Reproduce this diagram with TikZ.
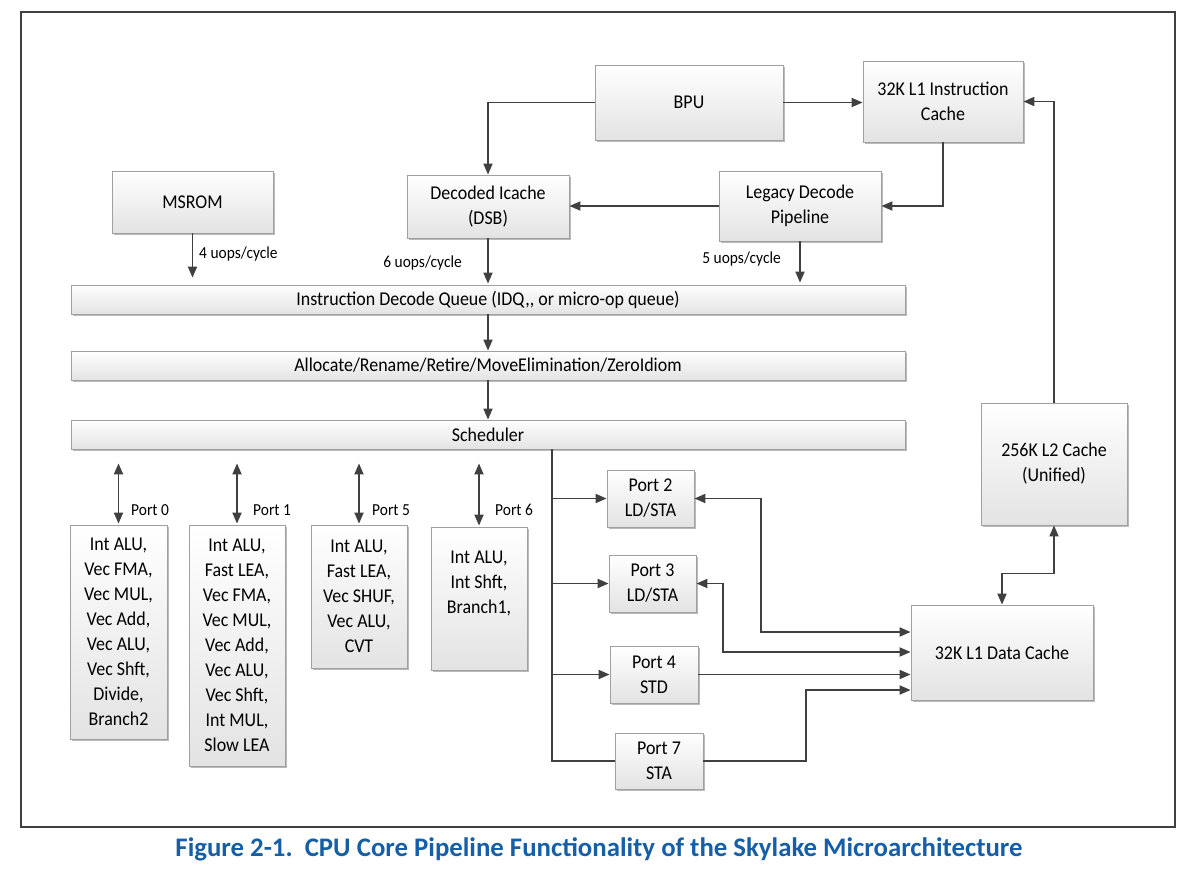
\documentclass[tikz,border=0pt]{standalone}
\usepackage{fontspec}
\setmainfont{Carlito}[FakeStretch=0.92]
\newfontfamily\titlefamily{Carlito}
\usetikzlibrary{arrows.meta,shadows,calc}
\definecolor{linec}{HTML}{404040}
\definecolor{boxborder}{HTML}{A0A0A0}
\definecolor{titleblue}{RGB}{22,94,166}
\newcommand\boxfont{\fontsize{19.5}{25}\selectfont}
\newcommand\lblfont{\fontsize{16.8}{20}\selectfont}
\begin{document}
\begin{tikzpicture}[x=1pt,y=-1pt,
  box/.style={draw=boxborder, line width=0.8pt, top color=white, bottom color=black!11,
    drop shadow={shadow xshift=1.5pt, shadow yshift=-1.5pt, fill=black!45, opacity=0.6},
    align=center, font=\boxfont, inner sep=0pt},
  bar/.style={box, minimum width=834, minimum height=29},
  tip/.tip={Triangle[length=11pt,width=9pt]},
  wire/.style={draw=linec, line width=1.8pt},
  conn/.style={wire, -tip},
  dbl/.style={wire, tip-tip},
  lbl/.style={font=\lblfont, inner sep=0pt},
  frame/.style={draw=linec, line width=2pt}
]
\useasboundingbox (0,0) rectangle (1200,870);
\draw[frame] (21,12) rectangle (1175,827);

% top blocks
\node[box, minimum width=188, minimum height=75] (bpu) at (689,102.5) {BPU};
\node[box, minimum width=160, minimum height=81] (l1i) at (943,101.5) {32K L1 Instruction\\Cache};
\node[box, minimum width=161, minimum height=62] (msrom) at (192.5,202) {MSROM};
\node[box, minimum width=162, minimum height=63] (dsb) at (488,206.5) {Decoded Icache\\(DSB)};
\node[box, minimum width=162, minimum height=70] (legacy) at (800,206) {Legacy Decode\\Pipeline};

% bars
\node[bar] (idq) at (488,299.5) {Instruction Decode Queue (IDQ,{}, or micro-op queue)};
\node[bar] (alloc) at (488,365.5) {Allocate/Rename/Retire/MoveElimination/ZeroIdiom};
\node[bar] (sched) at (488,434.5) {Scheduler};

% execution port boxes
\node[box, minimum width=97, minimum height=214] (p0) at (118.5,632) {Int ALU,\\Vec FMA,\\Vec MUL,\\Vec Add,\\Vec ALU,\\Vec Shft,\\Divide,\\Branch2};
\node[box, minimum width=96, minimum height=241] (p1) at (237,645.5) {Int ALU,\\Fast LEA,\\Vec FMA,\\Vec MUL,\\Vec Add,\\Vec ALU,\\Vec Shft,\\Int MUL,\\Slow LEA};
\node[box, minimum width=96, minimum height=143] (p5) at (359,596.5) {Int ALU,\\Fast LEA,\\Vec SHUF,\\Vec ALU,\\CVT};
\node[box, minimum width=96, minimum height=143] (p6) at (479,598.5) {Int ALU,\\Int Shft,\\Branch1,\\\strut};

% memory ports
\node[box, minimum width=87, minimum height=57] (p2) at (650.5,498.5) {Port 2\\LD/STA};
\node[box, minimum width=87, minimum height=57] (p3) at (652.5,583.5) {Port 3\\LD/STA};
\node[box, minimum width=88, minimum height=57] (p4) at (654,674.5) {Port 4\\STD};
\node[box, minimum width=88, minimum height=56] (p7) at (659,761) {Port 7\\STA};

% caches
\node[box, minimum width=146, minimum height=122] (l2) at (1054,464) {256K L2 Cache\\(Unified)};
\node[box, minimum width=182, minimum height=95] (l1d) at (1002,652.5) {32K L1 Data Cache};

% front-end connectors
\draw[conn] (bpu.west) -| (dsb.north);
\draw[conn] (bpu.east) -- (bpu.east -| l1i.west);
\draw[conn] (l1i.south) |- (legacy.east);
\draw[conn] (legacy.west) -- (legacy.west -| dsb.east);
\draw[conn, shorten >=7pt] (msrom.south) -- (msrom.south |- idq.north);
\draw[conn, shorten >=1pt] (dsb.south) -- (dsb.south |- idq.north);
\draw[conn, shorten >=2pt] (legacy.south) -- (legacy.south |- idq.north);
\node[lbl, anchor=west] (l4) at (199,254) {4 uops/cycle};
\node[lbl, anchor=east] (l6) at (462,263) {6 uops/cycle};
\node[lbl, anchor=east] (l5) at (781,259) {5 uops/cycle};

\draw[conn] (idq.south) -- (alloc.north);
\draw[conn] (alloc.south) -- (sched.north);

% scheduler to execution ports
\foreach \p/\t/\lx in {p0/Port 0/131, p1/Port 1/253, p5/Port 5/372, p6/Port 6/495} {
  \draw[dbl] ([yshift=-14pt]sched.south -| \p.north) -- ([yshift=1pt]\p.north);
  \node[lbl, anchor=west] (lab\p) at (\lx,510) {\t};
}

% scheduler bus to memory ports
\coordinate (bt) at (552,449);
\draw[wire] (bt) |- (p7.west);
\draw[conn] (bt |- p2.west) -- (p2.west);
\draw[conn] (bt |- p3.west) -- (p3.west);
\draw[conn] (bt |- p4.west) -- (p4.west);

% memory ports to L1 data cache
\coordinate (a2) at (761,632);
\coordinate (a3) at (723,652);
\coordinate (a7) at (806,690);
\draw[dbl] (p2.east) -| (a2) -- (a2 -| l1d.west);
\draw[dbl] (p3.east) -| (a3) -- (a3 -| l1d.west);
\draw[conn] (p4.east) -- (p4.east -| l1d.west);
\draw[conn] (p7.east) -| (a7) -- (a7 -| l1d.west);

% L2 connections
\draw[conn] (l2.north) |- (l1i.east);
\draw[dbl] (l2.south) -- ++(0,48) -| (l1d.north);

% caption
\node[font=\titlefamily\bfseries\fontsize{26.8}{30}\selectfont, text=titleblue, inner sep=0pt] (title) at (599,849)
  {Figure 2-1.\ \ CPU Core Pipeline Functionality of the Skylake Microarchitecture};
\end{tikzpicture}
\end{document}
